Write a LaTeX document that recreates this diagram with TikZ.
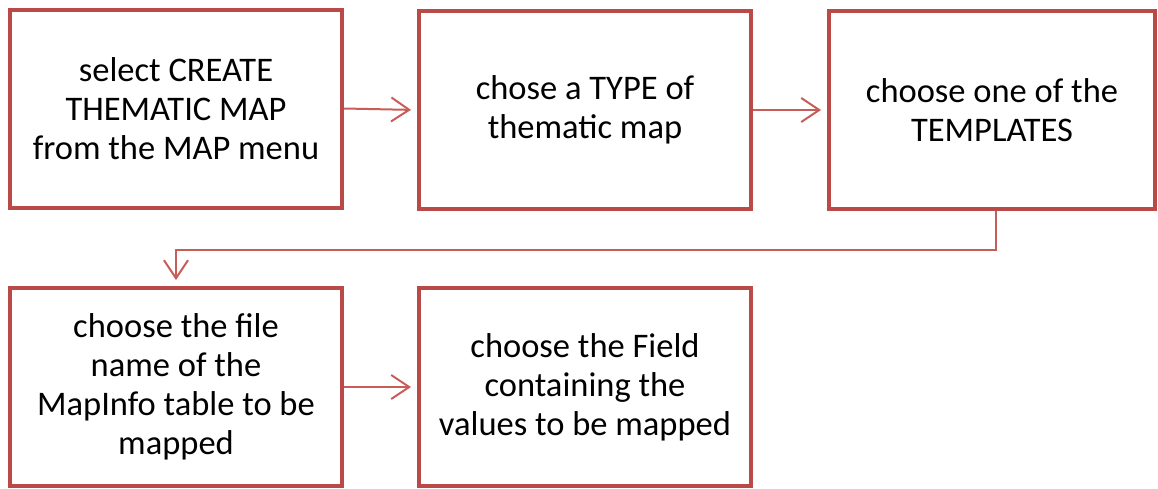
\documentclass[tikz,border=0pt]{standalone}
\usepackage{fontspec}
\setmainfont{Carlito}
\usetikzlibrary{arrows.meta,positioning}
\definecolor{boxred}{RGB}{185,74,71}
\definecolor{linkred}{RGB}{200,92,88}
\begin{document}
\begin{tikzpicture}[x=1pt,y=-1pt,
  stepbox/.style={draw=boxred, line width=4pt, fill=white, minimum width=332pt,
    minimum height=198pt, align=center, inner sep=0pt,
    font=\fontsize{34.5}{39}\selectfont},
  link/.style={draw=linkred, line width=2pt,
    -{Straight Barb[length=18pt,width=24pt,line width=2pt]}, shorten >=6pt}]
\useasboundingbox (0,0) rectangle (1158,488);
% top row
\node[stepbox] (b1) at (176,108.5) {select CREATE\\THEMATIC MAP\\from the MAP menu};
\node[stepbox] (b2) at (585,110) {chose a TYPE of\\thematic map};
\node[stepbox, minimum width=326pt] (b3) at (992,110) {choose one of the\\TEMPLATES};
% bottom row
\node[stepbox] (b4) at (176,387) {choose the file\\name of the\\MapInfo table to be\\mapped};
\node[stepbox] (b5) at (585,387) {choose the Field\\containing the\\values to be mapped};
% connectors
\draw[link] (b1.east) -- (b2.west);
\draw[link] (b2.east) -- (b3.west);
\draw[link] ([xshift=4pt]b3.south) -- ++(0,39) -| (b4.north);
\draw[link] (b4.east) -- (b5.west);
\end{tikzpicture}
\end{document}
